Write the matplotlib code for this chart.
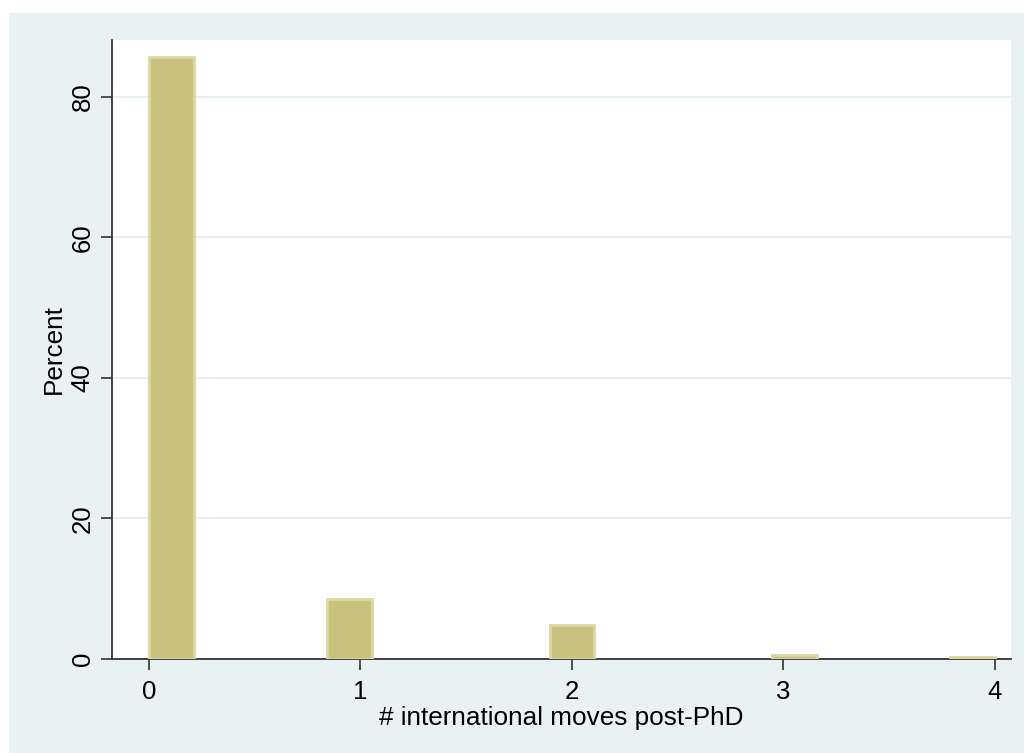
import matplotlib
matplotlib.use("Agg")
import matplotlib.pyplot as plt
from matplotlib.patches import Rectangle
import numpy as np

plt.rcParams['font.family'] = ['Liberation Sans', 'DejaVu Sans']

# Data: histogram of # international moves post-PhD (percent)
moves = [0, 1, 2, 3, 4]
percent = [85.7, 8.5, 4.9, 0.6, 0.3]
n_bins = 19
x_ticks = [0, 1, 2, 3, 4]
y_ticks = [0, 20, 40, 60, 80]

fig = plt.figure(figsize=(10.24, 7.53), dpi=100)
fig.patch.set_facecolor('white')
bg = Rectangle((9/1024, 0), 1 - 9/1024, 1 - 13/753, transform=fig.transFigure,
               facecolor='#EAF1F3', edgecolor='none', zorder=-10)
fig.patches.append(bg)

ax = fig.add_axes([112/1024, 1 - 659/753, (1011 - 112)/1024, (659 - 40)/753])
ax.set_facecolor('white')

w = (max(moves) - min(moves)) / n_bins
lefts = [min(int(np.floor(m / w)), n_bins - 1) * w for m in moves]
ax.bar(lefts, percent, width=w, align='edge', color='#C9C27E',
       edgecolor='#DCD6A2', linewidth=2.0, zorder=3)

ax.set_xlim(-0.175, 4.076)
ax.set_ylim(0, 88.1)
ax.set_xticks(x_ticks)
ax.set_yticks(y_ticks)
ax.set_yticklabels([str(v) for v in y_ticks], rotation=90, va='center')
for y in y_ticks[1:]:
    ax.axhline(y, color='#E6EFF1', linewidth=1.5, zorder=1)

for s in ['top', 'right']:
    ax.spines[s].set_visible(False)
for s in ['left', 'bottom']:
    ax.spines[s].set_color('#333333')
    ax.spines[s].set_linewidth(1.3)
ax.tick_params(axis='x', direction='out', length=8, width=1.2,
               color='#333333', labelsize=18.5, pad=7)
ax.tick_params(axis='y', direction='out', length=8, width=1.2,
               color='#333333', labelsize=18.5, pad=4.5)

ax.set_xlabel('# international moves post-PhD', fontsize=18.8, labelpad=1.5)
ax.set_ylabel('Percent', fontsize=18.8, labelpad=3.5)

fig.savefig('out.png', dpi=100, facecolor=fig.get_facecolor())
